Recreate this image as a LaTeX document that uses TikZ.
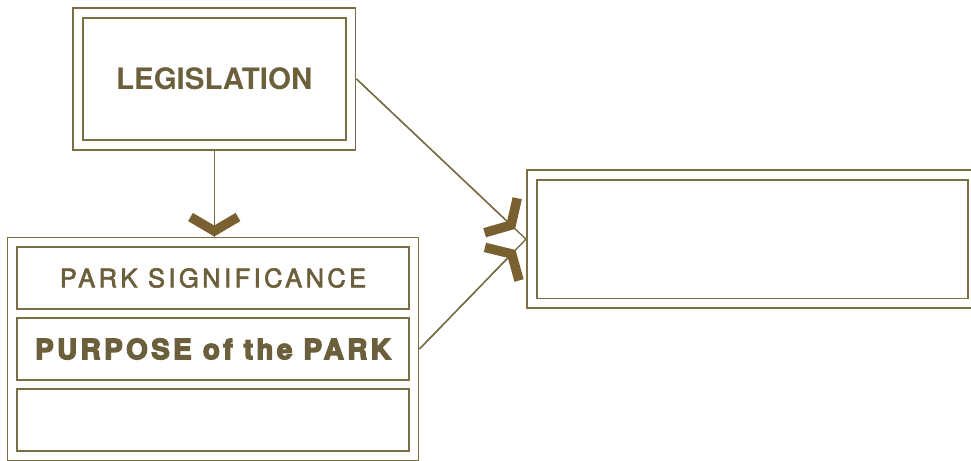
\documentclass[tikz,border=0pt]{standalone}
\usepackage{fontspec}
\setmainfont{TeX Gyre Heros}
\newfontfamily\sigfont{TeX Gyre Heros}[FakeBold=2.5, LetterSpace=13.5]
\newfontfamily\purpfont{TeX Gyre Heros}[BoldFeatures={FakeBold=5}, LetterSpace=12.5]
\usetikzlibrary{arrows.meta,positioning,fit}
\definecolor{parkline}{RGB}{122,110,68}
\definecolor{parktext}{RGB}{108,96,60}
\definecolor{parkbarb}{RGB}{122,96,48}

\begin{document}
\begin{tikzpicture}[
  dbox/.style={draw=parkline, line width=1.1pt, double=white, double distance=0.16cm,
               text=parktext, inner sep=0pt, outer sep=0.12cm},
  cell/.style={draw=parkline, line width=1.1pt, text=parktext, inner sep=0pt, outer sep=0pt,
               minimum width=7.84cm, minimum height=1.24cm},
  con/.style={draw=parkline, line width=0.8pt},
  barb/.style={postaction={draw, shorten >=#1,
               -{Straight Barb[length=0.28cm, width=0.95cm, line width=0.19cm, sharp, color=parkbarb]}}}
]
\useasboundingbox (0,0) rectangle (19.42,9.22);
\node[dbox, minimum width=5.45cm, minimum height=2.64cm] (leg) at (4.285,7.64)
  {\fontsize{16.8}{19}\selectfont\bfseries LEGISLATION};
\node[cell] (sig) at (4.26,3.66) {\fontsize{14.5}{17}\selectfont\sigfont PARK SIGNIFICANCE};
\node[cell, below=0.18cm of sig] (purp) {\fontsize{15.8}{18}\selectfont\purpfont\bfseries PURPOSE of the PARK};
\node[cell, below=0.18cm of purp] (blank) {};
\node[draw=parkline, line width=1.1pt, inner sep=0.19cm, fit=(sig)(blank)] (park) {};
\node[dbox, minimum width=8.82cm, minimum height=2.57cm] (goal) at (15.05,4.436) {};
% arrows into the boxes
\draw[con, barb=0pt] (leg.south) -- (leg.south |- park.north);
\draw[con, barb=0.3cm] (leg.east) -- (goal.west);
\draw[con, barb=0.3cm] (purp.east -| park.east) -- (goal.west);
\end{tikzpicture}
\end{document}
